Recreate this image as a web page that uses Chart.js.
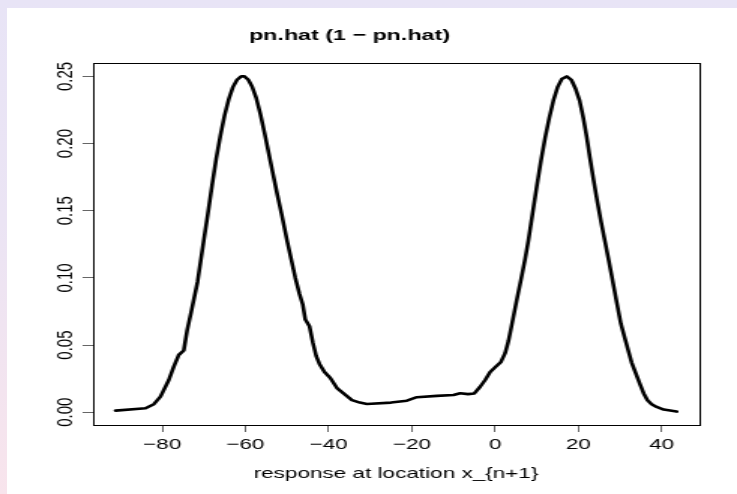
<!DOCTYPE html>
<html><head><meta charset="utf-8">
<script src="https://cdn.jsdelivr.net/npm/chart.js@4.4.0/dist/chart.umd.min.js"></script>
<style>
html,body{margin:0;padding:0;width:737px;height:494px;overflow:hidden;
  background:linear-gradient(to bottom,#e8e4f6 0%,#ebe4f4 45%,#f8e4ec 100%);}
#panel{position:absolute;left:7px;top:8px;width:730px;height:486px;background:#fff;}
#c{position:absolute;left:0;top:0;}
</style></head><body>
<div id="panel"></div>
<canvas id="c" width="491" height="494" style="width:737px;height:494px"></canvas>
<script>
// ---- data ----
const xValues = [-91.2,-84.0,-82.0,-80.4,-78.4,-77.2,-76.0,-74.8,-74.0,-73.0,-71.5,-70.0,-69.0,-68.0,-67.0,-66.0,-65.0,-64.0,-63.0,-62.0,-61.0,-60.2,-59.3,-58.4,-57.4,-56.4,-55.4,-54.4,-53.4,-52.4,-51.2,-50.0,-49.0,-48.0,-47.0,-46.2,-45.6,-44.6,-43.8,-43.0,-42.2,-41.0,-39.6,-38.0,-36.8,-35.6,-34.4,-32.5,-30.8,-25.0,-21.2,-18.8,-14.0,-10.0,-8.4,-6.5,-5.0,-3.6,-2.4,-1.2,0.2,1.4,2.4,3.2,4.0,5.2,6.3,7.2,8.0,9.0,10.0,11.0,12.0,13.0,14.0,15.0,16.0,17.2,18.3,19.3,20.3,21.2,22.0,22.8,23.7,24.6,25.5,26.4,27.3,28.1,29.2,30.2,31.0,31.8,32.8,33.8,34.8,35.7,36.6,37.6,38.8,40.5,43.6];
const yValues = [0.0012,0.003,0.006,0.0116,0.024,0.034,0.0427,0.046,0.061,0.075,0.097,0.128,0.148,0.169,0.189,0.206,0.221,0.233,0.242,0.2475,0.2500,0.2500,0.2475,0.2425,0.234,0.222,0.208,0.193,0.178,0.163,0.146,0.128,0.114,0.100,0.088,0.0800,0.0690,0.0640,0.0520,0.0420,0.0360,0.0300,0.0255,0.0180,0.0150,0.0120,0.0090,0.0072,0.0062,0.0072,0.0086,0.0112,0.0122,0.0129,0.0142,0.0135,0.0140,0.0190,0.0240,0.0300,0.0340,0.0375,0.0440,0.0530,0.0650,0.0837,0.100,0.114,0.128,0.148,0.168,0.187,0.204,0.219,0.232,0.242,0.248,0.2500,0.2475,0.241,0.232,0.219,0.205,0.189,0.172,0.156,0.141,0.127,0.113,0.100,0.082,0.066,0.057,0.048,0.037,0.029,0.021,0.014,0.009,0.006,0.004,0.002,0.0005];
const xTickValues = [-80,-60,-40,-20,0,20,40];
const xTickLabels = ["\u221280","\u221260","\u221240","\u221220","0","20","40"];
const yTickValues = [0,0.05,0.10,0.15,0.20,0.25];
const yTickLabels = ["0.00","0.05","0.10","0.15","0.20","0.25"];
const chartTitle = "pn.hat (1 \u2212 pn.hat)";
const xAxisTitle = "response at location x_{n+1}";

// R-style axis ranges (4% expansion)
const xr = [Math.min(...xValues), Math.max(...xValues)];
const yr = [Math.min(...yValues), Math.max(...yValues)];
const xPad = 0.04 * (xr[1] - xr[0]);
const yPad = 0.04 * (yr[1] - yr[0]);

const FONT = "'Liberation Sans', Arial, Helvetica, sans-serif";
const points = xValues.map((x, i) => ({x: x, y: yValues[i]}));

const boxPlugin = {
  id: 'box',
  afterDatasetsDraw(chart) {
    const {ctx, chartArea: a} = chart;
    ctx.save();
    ctx.strokeStyle = '#000';
    ctx.lineWidth = 1;
    ctx.strokeRect(Math.round(a.left) + 0.5, Math.round(a.top) + 0.5,
                   Math.round(a.right - a.left), Math.round(a.bottom - a.top));
    ctx.restore();
  }
};

new Chart(document.getElementById('c'), {
  type: 'line',
  data: { datasets: [{
    data: points,
    borderColor: '#000',
    borderWidth: 2.6,
    pointRadius: 0,
    tension: 0,
    fill: false,
    borderJoinStyle: 'round',
    borderCapStyle: 'round'
  }]},
  options: {
    responsive: false,
    animation: false,
    devicePixelRatio: 1,
    layout: { padding: { left: 0, right: 25.3, top: 0, bottom: 0 } },
    plugins: {
      legend: { display: false },
      tooltip: { enabled: false },
      title: {
        display: true, text: chartTitle, color: '#000',
        font: { family: FONT, size: 15.5, weight: 'bold' },
        padding: { top: 26, bottom: 18.4 }
      }
    },
    scales: {
      x: {
        type: 'linear',
        min: xr[0] - xPad, max: xr[1] + xPad,
        afterBuildTicks: s => { s.ticks = xTickValues.map(v => ({value: v})); },
        afterFit: s => { s.height = 69; },
        ticks: {
          callback: v => xTickLabels[xTickValues.indexOf(v)],
          font: { family: FONT, size: 15 }, color: '#000',
          padding: 4, maxRotation: 0, minRotation: 0, autoSkip: false
        },
        grid: { display: true, drawOnChartArea: false, drawTicks: true, tickLength: 7, tickColor: '#666', tickWidth: 1 },
        border: { display: true, color: '#000', width: 1 },
        title: { display: true, text: xAxisTitle, color: '#000',
          font: { family: FONT, size: 15 }, padding: { top: 0, bottom: 11 } }
      },
      y: {
        type: 'linear',
        min: yr[0] - yPad, max: yr[1] + yPad,
        afterBuildTicks: s => { s.ticks = yTickValues.map(v => ({value: v})); },
        afterFit: s => { s.width = 62; },
        ticks: {
          callback: v => yTickLabels[yTickValues.indexOf(v)],
          font: { family: FONT, size: 15 }, color: '#000',
          minRotation: 90, maxRotation: 90, crossAlign: 'center',
          padding: -3, autoSkip: false
        },
        grid: { display: true, drawOnChartArea: false, drawTicks: true, tickLength: 7, tickColor: '#666', tickWidth: 1 },
        border: { display: true, color: '#000', width: 1 }
      }
    }
  },
  plugins: [boxPlugin]
});
</script>
</body></html>
